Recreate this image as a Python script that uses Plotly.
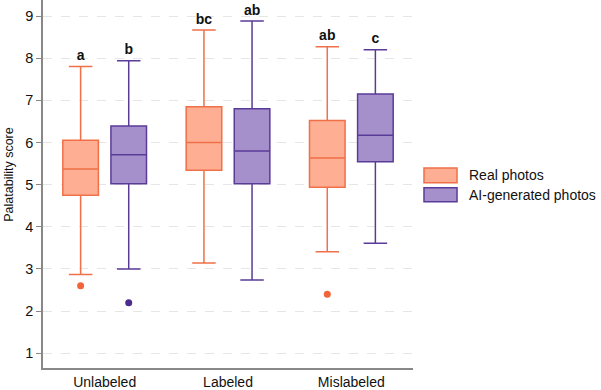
import plotly.graph_objects as go

conditions = ["Unlabeled", "Labeled", "Mislabeled"]

real_q1 = [4.75, 5.34, 4.94]
real_median = [5.37, 6.00, 5.63]
real_q3 = [6.05, 6.85, 6.52]
real_low = [2.87, 3.14, 3.41]
real_high = [7.80, 8.67, 8.27]
real_outlier_x = ["Unlabeled", "Mislabeled"]
real_outlier_y = [2.60, 2.40]
real_letters = ["a", "bc", "ab"]

ai_q1 = [5.02, 5.02, 5.54]
ai_median = [5.71, 5.80, 6.17]
ai_q3 = [6.39, 6.80, 7.15]
ai_low = [3.00, 2.74, 3.61]
ai_high = [7.94, 8.88, 8.20]
ai_outlier_x = ["Unlabeled"]
ai_outlier_y = [2.20]
ai_letters = ["b", "ab", "c"]

series_names = ["Real photos", "AI-generated photos"]

ORANGE_LINE = "#F07048"
ORANGE_FILL = "#FDAE93"
ORANGE_DOT = "#F2653A"
PURPLE_LINE = "#5B3B98"
PURPLE_FILL = "#A690CC"
PURPLE_DOT = "#4A2B8E"

FONT = "Liberation Sans, Arial, Helvetica, sans-serif"

fig = go.Figure()

groups = [
    ("r", real_q1, real_median, real_q3, real_low, real_high, real_outlier_x, real_outlier_y,
     real_letters, ORANGE_LINE, ORANGE_FILL, ORANGE_DOT),
    ("a", ai_q1, ai_median, ai_q3, ai_low, ai_high, ai_outlier_x, ai_outlier_y,
     ai_letters, PURPLE_LINE, PURPLE_FILL, PURPLE_DOT),
]

for g, q1, med, q3, lo, hi, ox, oy, letters, lc, fc, dc in groups:
    fig.add_trace(go.Box(
        x=conditions, q1=q1, median=med, q3=q3, lowerfence=lo, upperfence=hi,
        offsetgroup=g, line=dict(color=lc, width=1.5), fillcolor=fc,
        whiskerwidth=0.66, boxpoints=False, showlegend=False, hoverinfo="skip",
    ))
    fig.add_trace(go.Scatter(
        x=ox, y=oy, mode="markers", offsetgroup=g,
        marker=dict(color=dc, size=7), showlegend=False, hoverinfo="skip",
    ))
    fig.add_trace(go.Scatter(
        x=conditions, y=hi, mode="markers+text", text=letters, offsetgroup=g,
        textposition="top center", cliponaxis=False,
        marker=dict(size=3, color="rgba(0,0,0,0)"),
        textfont=dict(family=FONT, size=14, color="#111111", weight="bold"),
        showlegend=False, hoverinfo="skip",
    ))

fig.update_layout(
    width=601, height=390,
    margin=dict(l=43, r=188, t=0, b=19),
    paper_bgcolor="white", plot_bgcolor="white",
    boxmode="group", boxgap=0.22, boxgroupgap=0.26,
    scattermode="group", scattergap=0.22,
    font=dict(family=FONT, size=14, color="#111111"),
    showlegend=False,
)
fig.update_xaxes(
    type="category", showline=True, linecolor="#888888", linewidth=1.5,
    showgrid=False, ticks="", tickfont=dict(size=14), zeroline=False,
    ticklabelstandoff=0,
)
fig.update_yaxes(
    range=[0.65, 9.38], tickvals=[1, 2, 3, 4, 5, 6, 7, 8, 9],
    showline=True, linecolor="#888888", linewidth=1.5,
    ticks="outside", ticklen=5, tickcolor="#888888",
    showgrid=True, gridcolor="#e6e6e6", griddash="dash", gridwidth=1,
    zeroline=False, tickfont=dict(size=14.5),
)

# y-axis title
fig.add_annotation(
    text="Palatability score", xref="paper", yref="paper",
    x=-0.091, y=0.526, textangle=-90, showarrow=False,
    font=dict(size=12.5), xanchor="center", yanchor="middle",
)

# custom legend
legend_rows = [(0.5437, 0.5037, ORANGE_LINE, ORANGE_FILL), (0.4898, 0.452, PURPLE_LINE, PURPLE_FILL)]
for (y1, y0, lc, fc), name in zip(legend_rows, series_names):
    fig.add_shape(type="rect", xref="paper", yref="paper",
                  x0=1.0297, x1=1.119, y0=y0, y1=y1,
                  line=dict(color=lc, width=1.5), fillcolor=fc)
    fig.add_annotation(text=name, xref="paper", yref="paper",
                       x=1.146, y=(y0 + y1) / 2, xanchor="left", yanchor="middle",
                       showarrow=False, font=dict(size=14))

fig.write_html(
    "out.html",
    config={"displayModeBar": False},
    post_script="document.body.style.margin='0';document.body.style.overflow='hidden';",
)
